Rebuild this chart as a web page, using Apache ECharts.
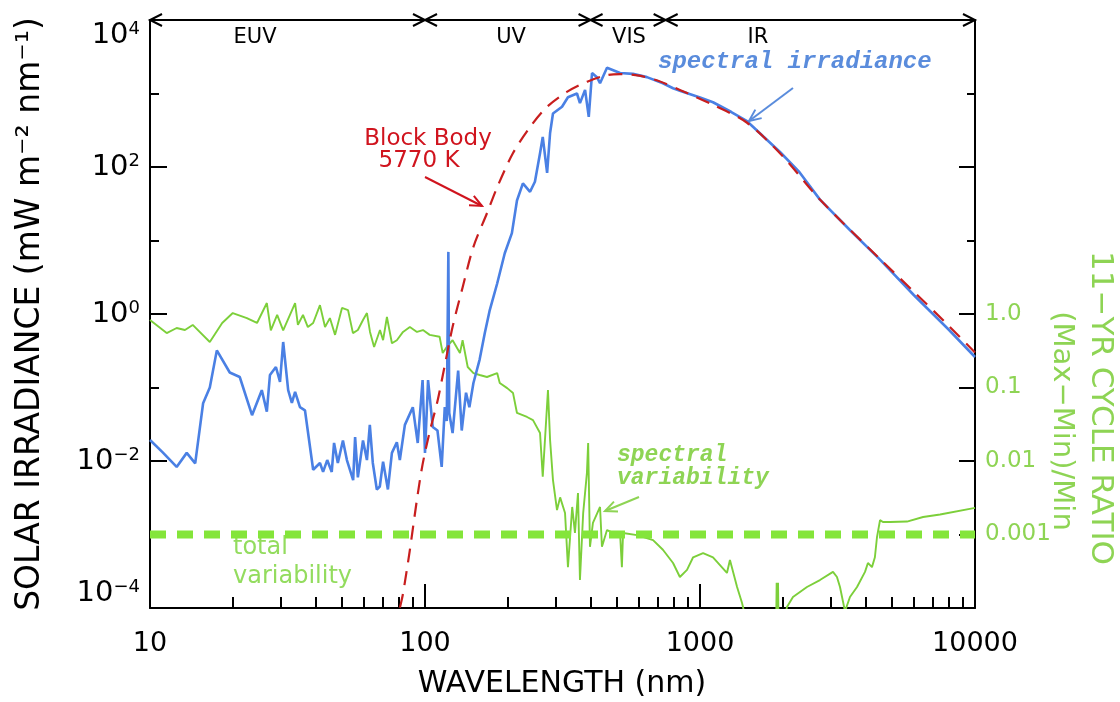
<!DOCTYPE html>
<html><head><meta charset="utf-8">
<script src="https://cdn.jsdelivr.net/npm/echarts@6/dist/echarts.min.js"></script>
<style>html,body{margin:0;padding:0;background:#fff}#c{width:1120px;height:702px}</style>
</head><body><div id="c"></div>
<script>
// ---- data ----
const irradianceWavelength = [10,11.1,12.5,13.6,14.6,15.6,16.5,17.5,19.5,21.2,
 23.5,25.5,26.6,27.3,28.7,29.7,30.5,31.8,32.8,33.7,
 35.1,36.6,39.2,41.5,42.6,44.1,45.8,46.7,48.2,50.3,
 52.0,54.8,55.7,57.0,59.5,61.5,63.0,64.6,66.8,68.5,
 70.4,73.3,75.8,79.0,81.0,84.5,90.3,94.1,98.0,100,
 102.6,106.7,111,115,118,120,121.6,122.5,126,132,
 136,141,145,150,158,165,172,183,195,207,
 216,227,241,251,262,268,278,285,292,315,
 331,357,366,382,394,405,422,433,459,512,
 570,641,733,798,850,1000,1115,1300,1483,1700,
 1954,2300,2730,3500,4515,6000,8000,10000];
const irradianceValue = [0.0193,0.0132,0.0083,0.0129,0.0093,0.061,0.10,0.32,0.16,0.139,
 0.042,0.092,0.047,0.148,0.19,0.119,0.416,0.092,0.062,0.087,
 0.054,0.049,0.0076,0.0094,0.0071,0.0103,0.0071,0.0176,0.0094,0.019,
 0.0103,0.0055,0.0212,0.006,0.019,0.0103,0.031,0.0094,0.0041,0.0045,
 0.0098,0.0041,0.0129,0.018,0.0103,0.031,0.054,0.0176,0.126,0.0129,
 0.126,0.029,0.026,0.0083,0.054,0.035,7.0,0.045,0.024,0.17,
 0.026,0.085,0.054,0.115,0.24,0.55,1.13,2.6,6.7,12.6,
 35,60,46,63,154,257,83,290,535,660,
 890,1000,740,1120,480,1900,1670,1380,2240,1900,
 1850,1670,1380,1180,1080,880,760,560,420,260,
 160,85,36,14,5.5,1.8,0.62,0.26];

const blackBodyWavelength = [78,81,83,88,93.5,98,104,111,118,126,
 137,150,168,183,209,241,278,328,389,459,
 512,600,700,845,1115,1483,2000,2730,4515,6000,
 8000,10000];
const blackBodyValue = [5e-5,1e-4,1.5e-4,6e-4,0.003,0.009,0.025,0.065,0.2,0.67,
 2.3,8.2,23.5,53,155,350,660,1050,1450,1780,
 1840,1750,1500,1120,700,400,140,36,5.6,2.0,
 0.7,0.30];

const variabilityWavelength = [10,11.5,12.5,13.4,14.3,16.5,18.3,20.0,22.5,24.5,
 26.6,27.5,29.0,30.5,33.7,34.5,36.0,37.5,39.2,41.5,
 43.3,45.1,47.1,49.9,52.5,54.7,57.0,59.5,61.5,63.1,
 65.3,68.6,70.4,72.7,75.8,79.0,83.2,88.1,93.5,98.3,
 104,113,116,120,126,134,137,143,150,158,
 168,183,187,199,209,216,235,247,262,268,
 280,285,292,302,310,323,331,343,351,360,
 366,376,388,392,398,408,433,440,459,483,
 512,520,525,590,675,733,798,845,897,944,
 1026,1115,1253,1285,1364,1422,1500,1653,1888,1900,
 1910,1922,1935,2071,2178,2449,2730,3045,3148,3229,
 3367,3510,3724,3981,4080,4220,4325,4400,4515,4625,
 4909,5659,6474,7464,10000];
const variabilityRatio = [0.83,0.55,0.645,0.605,0.71,0.416,0.755,1.03,0.88,0.755,
 1.41,0.6,0.97,0.6,1.41,0.71,0.97,0.665,0.755,1.32,
 0.665,0.88,0.52,1.21,1.13,0.55,0.605,0.83,1.03,0.57,
 0.356,0.605,0.44,0.91,0.40,0.44,0.57,0.665,0.57,0.605,
 0.52,0.49,0.294,0.356,0.44,0.294,0.44,0.19,0.157,0.148,
 0.139,0.157,0.115,0.098,0.084,0.045,0.0397,0.036,0.024,0.0061,
 0.092,0.0193,0.0055,0.00215,0.0032,0.00196,0.00036,0.00237,0.00105,0.00367,
 0.00024,0.00196,0.0069,0.0176,0.00068,0.00144,0.00237,0.00068,0.00115,0.00105,
 0.00105,0.00036,0.00105,0.00098,0.00084,0.00062,0.00041,0.000264,0.00033,0.00049,
 0.00056,0.00049,0.0003,0.00045,0.000193,0.000117,0.00005,0.00003,0.00003,0.00022,
 0.00003,0.00022,0.00003,0.000103,0.000141,0.000193,0.00024,0.00031,0.000264,0.000193,
 0.00009,0.000141,0.000193,0.00031,0.00041,0.00036,0.00049,0.00091,0.00157,0.00148,
 0.00148,0.0015,0.00173,0.00187,0.0023];

const totalVariability = 0.001;
const bandEdges = [10, 100, 400, 750, 10000];
const bandNames = ['EUV', 'UV', 'VIS', 'IR'];
const xMinorTicks = [20,30,40,50,60,70,80,90,200,300,400,500,600,700,800,900,2000,3000,4000,5000,6000,7000,8000,9000];
const leftLongTicks = [1e-4,1e-2,1,1e2,1e4];
const leftShortTicks = [1e-3,1e-1,1e1,1e3];
const rightLongTicks = [1e-3,1e-2,1e-1,1,1e2];
const rightShortTicks = [1e1,1e3];
const ratioTicks = [0.001,0.01,0.1,1];
const ratioLabels = ['0.001','0.01','0.1','1.0'];

// ---- build ----
const zip = (a, b) => a.map((v, i) => [v, b[i]]);
const FONT = 'DejaVu Sans';
const GREEN = '#7ccf3a', GREEN_TXT = '#8ed454', BLUE = '#4a80e4', RED = '#c81e1e';
const chart = echarts.init(document.getElementById('c'), null, {renderer: 'canvas'});

function arrow(x1, y1, x2, y2, color) {
  const ang = Math.atan2(y2 - y1, x2 - x1), L = 13, a = 0.42;
  return [
    {type: 'line', shape: {x1, y1, x2, y2}, style: {stroke: color, lineWidth: 2}},
    {type: 'polyline', shape: {points: [[x2 - L*Math.cos(ang - a), y2 - L*Math.sin(ang - a)], [x2, y2], [x2 - L*Math.cos(ang + a), y2 - L*Math.sin(ang + a)]]},
     style: {stroke: color, lineWidth: 2, fill: null}}
  ];
}
function txt(x, y, text, size, color, extra) {
  return {type: 'text', x, y, style: Object.assign({text, fontSize: size, fontFamily: FONT, fill: color, align: 'left', verticalAlign: 'middle'}, extra || {})};
}

const bandData = bandNames.map((n, i) => [bandEdges[i], bandEdges[i + 1]]);
const bandLabelX = [255, 511, 629, 758];
const MONO = {fontFamily: 'Liberation Mono', fontStyle: 'italic', fontWeight: 'bold'};

const baseY = {type: 'log', logBase: 10, min: 1e-4, max: 1e4, splitLine: {show: false}};
const option = {
  animation: false,
  backgroundColor: '#fff',
  grid: {left: 150, right: 145, top: 20, bottom: 94, containLabel: false},
  xAxis: [
    {type: 'log', logBase: 10, min: 10, max: 10000, position: 'bottom',
     axisLine: {show: true, lineStyle: {color: '#000', width: 2}},
     axisTick: {show: true, inside: true, length: 24, lineStyle: {color: '#000', width: 2}},
     axisLabel: {show: true, margin: 22, fontSize: 27, fontFamily: FONT, color: '#000', formatter: v => String(Math.round(v))},
     splitLine: {show: false}},
    {type: 'log', logBase: 10, min: 10, max: 10000, position: 'bottom',
     axisLine: {show: false},
     axisTick: {show: true, inside: true, length: 11, customValues: xMinorTicks, lineStyle: {color: '#000', width: 2}},
     axisLabel: {show: false}, splitLine: {show: false}}
  ],
  yAxis: [
    Object.assign({}, baseY, {position: 'left',
     axisLine: {show: true, lineStyle: {color: '#000', width: 2}},
     axisTick: {show: true, inside: true, length: 17, customValues: leftLongTicks, lineStyle: {color: '#000', width: 2}},
     axisLabel: {show: true, margin: 10, showMinLabel: true, showMaxLabel: true,
       verticalAlignMinLabel: 'bottom', verticalAlignMaxLabel: 'top',
       formatter: v => { const e = Math.round(Math.log10(v)); if (e % 2 !== 0) return ''; return '{b|10}{s|' + (e < 0 ? '\u2212' : '') + Math.abs(e) + '}'; },
       rich: {b: {fontSize: 29, fontFamily: FONT, color: '#000', lineHeight: 30}, s: {fontSize: 18, fontFamily: FONT, color: '#000', lineHeight: 17, verticalAlign: 'top'}}}}),
    Object.assign({}, baseY, {position: 'left', axisLine: {show: false},
     axisTick: {show: true, inside: true, length: 9, customValues: leftShortTicks, lineStyle: {color: '#000', width: 2}},
     axisLabel: {show: false}}),
    Object.assign({}, baseY, {position: 'right',
     axisLine: {show: true, lineStyle: {color: '#000', width: 2}},
     axisTick: {show: true, inside: true, length: 16, customValues: rightLongTicks, lineStyle: {color: '#000', width: 2}},
     axisLabel: {show: true, margin: 10, fontSize: 23, fontFamily: FONT, color: GREEN_TXT,
       formatter: v => { const i = ratioTicks.findIndex(t => Math.abs(Math.log10(t) - Math.log10(v)) < 1e-6); return i < 0 ? '' : ratioLabels[i]; }}}),
    Object.assign({}, baseY, {position: 'right', axisLine: {show: false},
     axisTick: {show: true, inside: true, length: 8, customValues: rightShortTicks, lineStyle: {color: '#000', width: 2}},
     axisLabel: {show: false}})
  ],
  series: [
    {name: 'spectral variability', type: 'line', data: zip(variabilityWavelength, variabilityRatio),
     showSymbol: false, clip: true, lineStyle: {color: GREEN, width: 1.9}, z: 2},
    {name: 'total variability', type: 'line', data: [[bandEdges[0], totalVariability], [bandEdges[bandEdges.length - 1], totalVariability]],
     showSymbol: false, clip: true, lineStyle: {color: '#84e53a', width: 8, type: [16, 11]}, z: 2},
    {name: 'spectral irradiance', type: 'line', data: zip(irradianceWavelength, irradianceValue),
     showSymbol: false, clip: true, lineStyle: {color: BLUE, width: 2.6}, z: 3},
    {name: 'black body', type: 'line', data: zip(blackBodyWavelength, blackBodyValue), smooth: 0.3,
     showSymbol: false, clip: true, lineStyle: {color: RED, width: 2.2, type: [14, 9]}, z: 4},
    {name: 'bands', type: 'custom', data: bandData, encode: {x: [0, 1]}, clip: false, z: 5,
     renderItem: (params, api) => {
       const p1 = api.coord([api.value(0), 1e4]);
       const p2 = api.coord([api.value(1), 1e4]);
       const h = 12, w = 6;
       const st = {stroke: '#000', lineWidth: 2, fill: null};
       return {type: 'group', children: [
         {type: 'line', shape: {x1: p1[0], y1: p1[1], x2: p2[0], y2: p2[1]}, style: st},
         {type: 'polyline', shape: {points: [[p1[0] + h, p1[1] - w], [p1[0], p1[1]], [p1[0] + h, p1[1] + w]]}, style: st},
         {type: 'polyline', shape: {points: [[p2[0] - h, p2[1] - w], [p2[0], p2[1]], [p2[0] - h, p2[1] + w]]}, style: st}
       ]};
     }}
  ],
  graphic: [].concat(
    bandNames.map((n, i) => txt(bandLabelX[i], 38, n, 21, '#000', {align: 'center'})),
    [
      txt(428, 139, 'Block Body', 23, '#d0141e', {align: 'center'}),
      txt(419, 161, '5770 K', 23, '#d0141e', {align: 'center'})
    ],
    arrow(425, 177, 482, 206, '#d0141e'),
    [txt(658, 62, 'spectral irradiance', 24, '#5a8cdc', MONO)],
    arrow(793, 88, 749, 121, '#5a8cdc'),
    [
      txt(617, 455, 'spectral', 23, GREEN_TXT, MONO),
      txt(617, 478, 'variability', 23, GREEN_TXT, MONO)
    ],
    arrow(639, 497, 605, 511, GREEN_TXT),
    [
      txt(233, 548, 'total', 24, '#93dc5e'),
      txt(233, 577, 'variability', 24, '#93dc5e'),
      txt(562, 684, 'WAVELENGTH (nm)', 30, '#000', {align: 'center'}),
      Object.assign(txt(30, 314, 'SOLAR IRRADIANCE (mW m\u207B\u00B2 nm\u207B\u00B9)', 33, '#000', {align: 'center'}), {rotation: Math.PI / 2}),
      Object.assign(txt(1100, 408, '11\u2212YR CYCLE RATIO', 31, GREEN_TXT, {align: 'center'}), {rotation: -Math.PI / 2}),
      Object.assign(txt(1062, 421, '(Max\u2212Min)/Min', 29, GREEN_TXT, {align: 'center'}), {rotation: -Math.PI / 2})
    ]
  )
};
chart.setOption(option);
</script></body></html>
